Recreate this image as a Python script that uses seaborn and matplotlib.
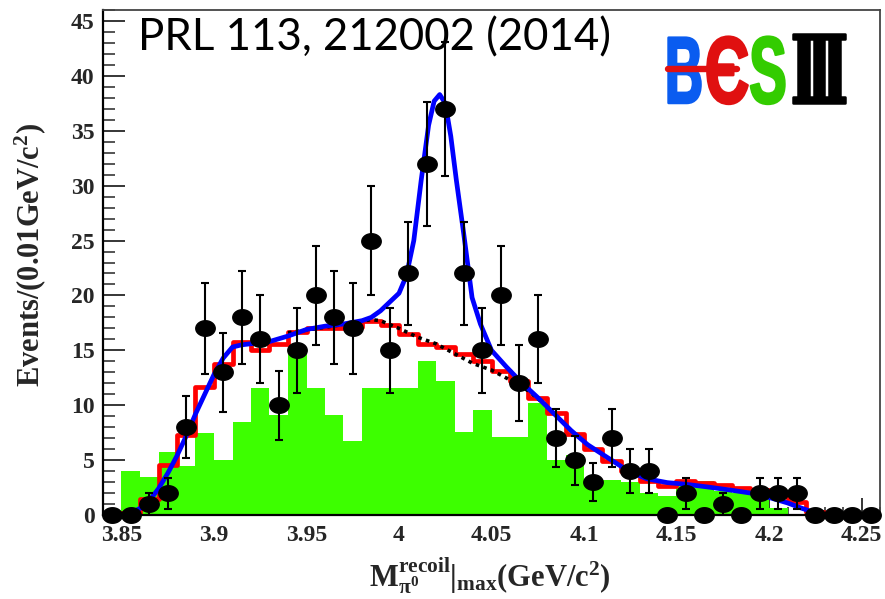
import numpy as np
import pandas as pd
import matplotlib
matplotlib.use("Agg")
import matplotlib.pyplot as plt
import matplotlib.patheffects as pe
from matplotlib.transforms import Affine2D
from matplotlib.path import Path
from matplotlib.lines import Line2D
from matplotlib.ticker import FixedLocator, FixedFormatter, MultipleLocator
import seaborn as sns

# ---------------- data ----------------
bin_centers = [3.845, 3.855, 3.865, 3.875, 3.885, 3.895, 3.905, 3.915, 3.925, 3.935,
               3.945, 3.955, 3.965, 3.975, 3.985, 3.995, 4.005, 4.015, 4.025, 4.035,
               4.045, 4.055, 4.065, 4.075, 4.085, 4.095, 4.105, 4.115, 4.125, 4.135,
               4.145, 4.155, 4.165, 4.175, 4.185, 4.195, 4.205, 4.215, 4.225, 4.235,
               4.245, 4.255]
data_counts = [0, 0, 1, 2, 8, 17, 13, 18, 16, 10,
               15, 20, 18, 17, 25, 15, 22, 32, 37, 22,
               15, 20, 12, 16, 7, 5, 3, 7, 4, 4,
               0, 2, 0, 1, 0, 2, 2, 2, 0, 0,
               0, 0]
data_err = [0, 0, 1.0, 1.41, 2.83, 4.12, 3.61, 4.24, 4.0, 3.16,
            3.87, 4.47, 4.24, 4.12, 5.0, 3.87, 4.69, 5.66, 6.08, 4.69,
            3.87, 4.47, 3.46, 4.0, 2.65, 2.24, 1.73, 2.65, 2.0, 2.0,
            0, 1.41, 0, 1.0, 0, 1.41, 1.41, 1.41, 0, 0,
            0, 0]
# green histogram
green_hist = [0, 4.0, 3.5, 5.7, 4.5, 7.5, 5.0, 8.5, 11.6, 9.1,
              14.7, 11.6, 9.1, 6.7, 11.6, 11.6, 11.6, 14.0, 12.2, 7.6,
              9.6, 7.1, 7.1, 10.2, 5.0, 5.5, 3.2, 3.2, 3.0, 2.0,
              1.7, 3.1, 3.1, 2.2, 2.0, 2.0, 0.6, 0, 0, 0,
              0, 0]
# red histogram
red_hist = [0, 0.2, 1.5, 4.6, 7.3, 11.7, 13.8, 15.8, 15.0, 15.6,
            16.7, 17.0, 17.0, 17.1, 17.7, 17.3, 16.5, 15.6, 15.3, 14.7,
            14.0, 13.1, 12.2, 10.7, 9.3, 7.4, 6.0, 4.9, 4.0, 3.1,
            2.6, 3.1, 2.9, 2.7, 2.5, 2.3, 2.0, 1.2, 0.3, 0,
            0, 0]
# total fit curve (blue)
fit_x = [3.840, 3.850, 3.855, 3.860, 3.865, 3.870, 3.875, 3.880, 3.885, 3.890,
         3.895, 3.900, 3.905, 3.910, 3.915, 3.920, 3.930, 3.940, 3.950, 3.960,
         3.970, 3.980, 3.985, 3.990, 3.995, 4.000, 4.004, 4.008, 4.012, 4.016,
         4.019, 4.022, 4.025, 4.028, 4.031, 4.035, 4.0395, 4.044, 4.050, 4.058,
         4.066, 4.075, 4.084, 4.093, 4.102, 4.113, 4.124, 4.134, 4.145, 4.155,
         4.167, 4.180, 4.190, 4.200, 4.210, 4.218, 4.225, 4.230, 4.260]
fit_y = [0, 0, 0.2, 0.6, 1.3, 2.4, 3.8, 5.4, 7.2, 9.2,
         11.0, 12.8, 14.3, 15.3, 15.5, 15.6, 15.8, 16.3, 16.9, 17.2,
         17.4, 17.7, 18.0, 18.6, 19.4, 20.2, 21.8, 25.0, 30.5, 35.5,
         37.7, 38.3, 37.5, 34.5, 30.5, 25.6, 19.8, 17.4, 15.0, 13.5,
         12.1, 10.7, 9.2, 7.7, 6.4, 5.2, 4.0, 3.3, 2.95, 2.8,
         2.55, 2.25, 2.0, 1.6, 1.1, 0.6, 0.2, 0, 0]
# background component of the fit (black dotted)
bkg_x = [3.940, 3.960, 3.975, 3.985, 3.990, 4.000, 4.010, 4.020, 4.030, 4.040,
         4.050, 4.060, 4.070, 4.080, 4.090]
bkg_y = [16.6, 17.1, 17.5, 17.8, 17.7, 17.0, 16.2, 15.6, 14.7, 13.8,
         13.2, 12.3, 11.3, 9.9, 8.2]

x_ticks = [3.85, 3.90, 3.95, 4.00, 4.05, 4.10, 4.15, 4.20, 4.25]
x_tick_labels = ["3.85", "3.9", "3.95", "4", "4.05", "4.1", "4.15", "4.2", "4.25"]
y_ticks = [0, 5, 10, 15, 20, 25, 30, 35, 40, 45]

# ---------------- style ----------------
sns.set_style("white")
plt.rcParams["font.family"] = ["Liberation Serif", "DejaVu Serif"]
plt.rcParams["mathtext.fontset"] = "custom"
plt.rcParams["mathtext.rm"] = "Liberation Serif:bold"
plt.rcParams["mathtext.it"] = "Liberation Serif:bold"
plt.rcParams["mathtext.bf"] = "Liberation Serif:bold"

W, H = 885, 599
fig = plt.figure(figsize=(W / 100, H / 100), dpi=100)
fig.patch.set_facecolor("white")
ax = fig.add_axes([103 / W, 1 - 515 / H, 777 / W, 505 / H])
ax.set_facecolor("white")

df = pd.DataFrame({"mass": bin_centers, "green": green_hist, "red": red_hist})

sns.histplot(data=df, x="mass", weights="green", binwidth=0.01,
             binrange=(3.84, 4.26), element="step", fill=True,
             color="#3dff00", alpha=1.0, linewidth=0, ax=ax)
sns.histplot(data=df, x="mass", weights="red", binwidth=0.01,
             binrange=(3.84, 4.26), element="step", fill=False,
             color="#ff0000", linewidth=3.4, ax=ax)
sns.lineplot(x=bkg_x, y=bkg_y, color="black", linewidth=2.6,
             linestyle=(0, (1.0, 1.2)), ax=ax)
sns.lineplot(x=fit_x, y=fit_y, color="#0000ff", linewidth=3.4, ax=ax)

cnt = np.array(data_counts, dtype=float)
err = np.array(data_err, dtype=float)
cx = np.array(bin_centers)
m = cnt > 0
ax.errorbar(cx[m], cnt[m], yerr=err[m], fmt="none", ecolor="black",
            elinewidth=1.5, capsize=3.0, capthick=1.5, zorder=5)

theta = np.linspace(0, 2 * np.pi, 41)
ell = Path(np.column_stack([1.25 * np.cos(theta), np.sin(theta)]), closed=True)
ax.plot(cx, cnt, linestyle="none", marker=ell, markersize=14.0,
        color="black", zorder=6, clip_on=False)

ax.set_xlim(3.84, 4.26)
ax.set_ylim(0, 46)
ax.set_xlabel("")
ax.set_ylabel("")

ax.xaxis.set_major_locator(FixedLocator(x_ticks))
ax.xaxis.set_major_formatter(FixedFormatter(x_tick_labels))
ax.xaxis.set_minor_locator(MultipleLocator(0.01))
ax.yaxis.set_major_locator(FixedLocator(y_ticks))
ax.yaxis.set_minor_locator(MultipleLocator(1))

ax.tick_params(axis="x", which="major", direction="in", length=12, width=1.3,
               pad=7, labelsize=17, bottom=True, top=False)
ax.tick_params(axis="x", which="minor", direction="in", length=6, width=1.1,
               bottom=True, top=False)
ax.tick_params(axis="y", which="major", direction="in", length=16, width=1.3,
               pad=6, labelsize=17, left=True, right=False)
ax.tick_params(axis="y", which="minor", direction="in", length=8.5, width=1.1,
               left=True, right=False)
for lab in ax.get_xticklabels() + ax.get_yticklabels():
    lab.set_fontweight("bold")

for s in ["left", "bottom"]:
    ax.spines[s].set_color("black")
    ax.spines[s].set_linewidth(1.6)
for s in ["top", "right"]:
    ax.spines[s].set_color("#444444")
    ax.spines[s].set_linewidth(1.3)

fig.text(30 / W, 1 - 255 / H, "Events/(0.01GeV/c$^{2}$)", rotation=90,
         ha="center", va="center", fontsize=22, fontweight="bold")
fig.text(490 / W, 1 - 576 / H,
         r"$\mathrm{M}^{\mathrm{recoil}}_{\pi^{0}}|_{\mathrm{max}}$(GeV/c$^{2}$)",
         ha="center", va="center", fontsize=22, fontweight="bold")

fig.text(138 / W, 1 - 50 / H, "PRL 113, 212002 (2014)", ha="left",
         va="baseline", fontsize=31.5, family=["Lato", "DejaVu Sans"], color="black")


# ---- BESIII logo: real text, reshaped about its anchor with a path effect ----
class Reshape(pe.AbstractPathEffect):
    def __init__(self, sx, sy, anchor_px, color, stroke=1.8):
        super().__init__()
        self.sx, self.sy = sx, sy
        self.x0, self.y0 = anchor_px
        self.color = color
        self.stroke = stroke

    def draw_path(self, renderer, gc, tpath, affine, rgbFace=None):
        t = affine + Affine2D().translate(-self.x0, -self.y0).scale(
            self.sx, self.sy).translate(self.x0, self.y0)
        gc0 = renderer.new_gc()
        gc0.copy_properties(gc)
        gc0.set_foreground(self.color)
        gc0.set_linewidth(self.stroke)
        gc0.set_joinstyle("round")
        renderer.draw_path(gc0, tpath, t, rgbFace)
        gc0.restore()


base_y = 103
logo_letters = [("B", 684, "#0a5cf0", 1.05, ["Liberation Sans", "DejaVu Sans"]),
                ("Є", 727, "#e01010", 1.25, ["Liberation Sans", "DejaVu Sans"]),
                ("S", 768, "#33cc00", 1.12, ["Liberation Sans", "DejaVu Sans"]),
                ("Ⅲ", 819, "black", 1.15, ["DejaVu Serif", "DejaVu Sans"])]
for ch, xc, col, sx, fam in logo_letters:
    t = fig.text(xc / W, 1 - base_y / H, ch, color=col, ha="center",
                 va="baseline", fontsize=36, fontweight="bold", family=fam)
    t.set_path_effects([Reshape(sx, 1.9, (xc, H - base_y), col)])

fig.add_artist(Line2D([668 / W, 737 / W], [1 - 68.5 / H, 1 - 68.5 / H],
                      color="#e01010", linewidth=4.6, zorder=10,
                      transform=fig.transFigure))

fig.savefig("out.png", dpi=100, facecolor="white")
